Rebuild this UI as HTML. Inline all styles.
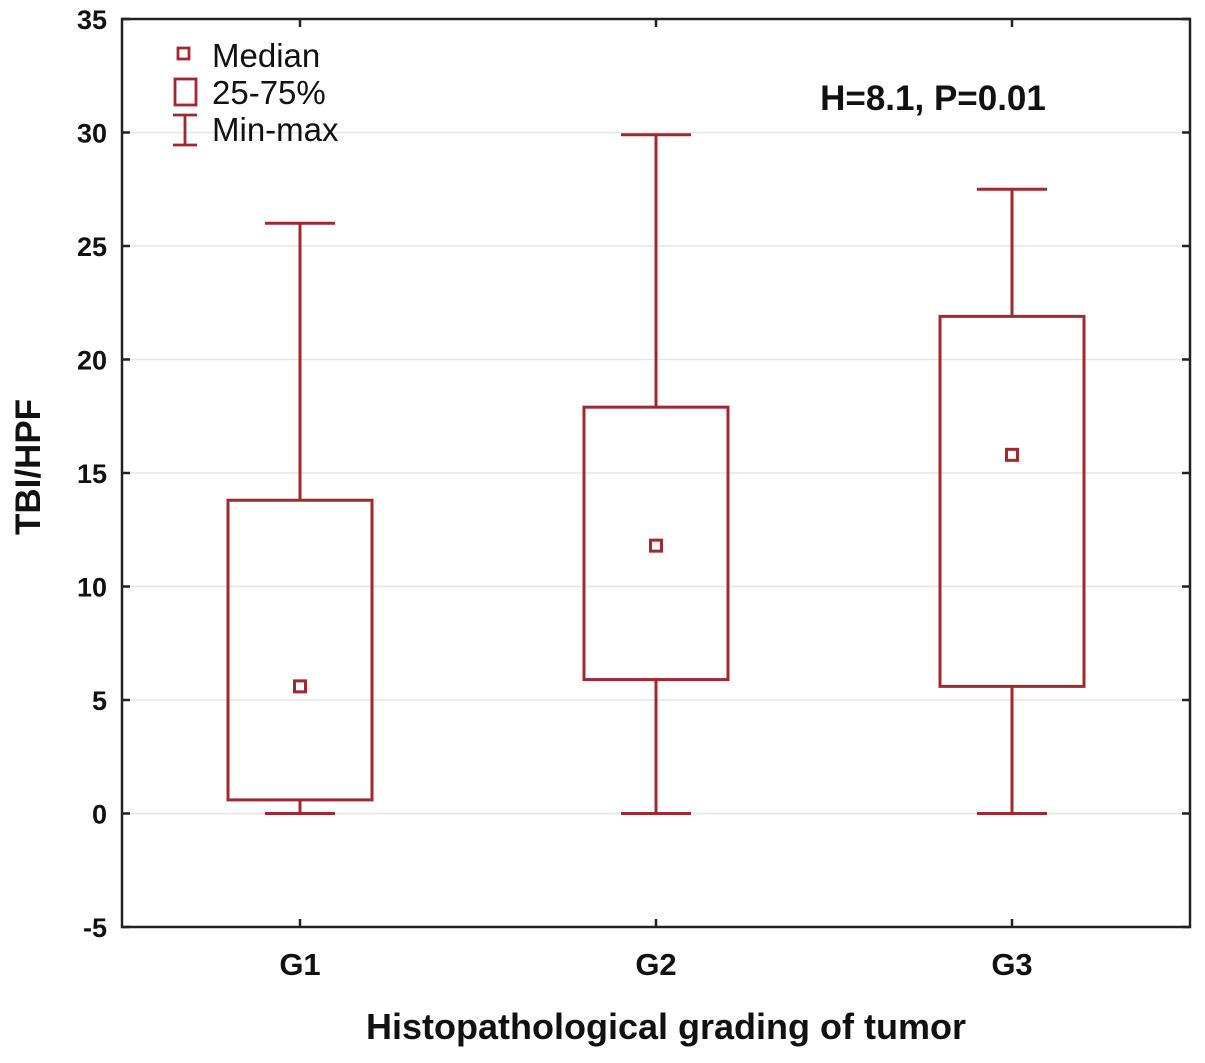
<!DOCTYPE html>
<html><head><meta charset="utf-8"><style>
body{margin:0;background:#fff}
svg text{font-family:"Liberation Sans",Arial,sans-serif;fill:#111}
</style></head><body>
<svg id="chart" width="1205" height="1058" viewBox="0 0 1205 1058" xmlns="http://www.w3.org/2000/svg">
<g id="grid"></g>
<g id="boxes"></g>
<rect x="122" y="19" width="1068" height="908" fill="none" stroke="#222" stroke-width="2.5"/>
<g id="ticks"></g>
<g>
<rect x="178" y="48" width="11" height="11" fill="none" stroke="#a0282e" stroke-width="2.8"/>
<text x="212" y="67" font-size="33">Median</text>
<rect x="175" y="79" width="21" height="26" fill="none" stroke="#a0282e" stroke-width="2.8"/>
<text x="212" y="104" font-size="33">25-75%</text>
<path d="M173 115H197M185 115V145M173 145H197" fill="none" stroke="#a0282e" stroke-width="2.8"/>
<text x="212" y="141" font-size="33">Min-max</text>
</g>
<text x="933" y="110" font-size="35" font-weight="bold" text-anchor="middle">H=8.1, P=0.01</text>
<text transform="translate(40,467) rotate(-90)" font-size="35" font-weight="bold" text-anchor="middle">TBI/HPF</text>
<text x="666" y="1039" font-size="36" font-weight="bold" text-anchor="middle">Histopathological grading of tumor</text>
</svg>
<script>
const categories=["G1","G2","G3"];
const minVals=[0,0,0];
const q1Vals=[0.6,5.9,5.6];
const medianVals=[5.6,11.8,15.8];
const q3Vals=[13.8,17.9,21.9];
const maxVals=[26,29.9,27.5];
const yTicks=[-5,0,5,10,15,20,25,30,35];

const NS="http://www.w3.org/2000/svg";
const L=122,R=1190,T=19,B=927,yMin=-5,yMax=35;
const y=v=>B-(v-yMin)/(yMax-yMin)*(B-T);
const step=(R-L)/categories.length;
const x=i=>L+step*(i+0.5);
const C="#a0282e";
function mk(tag,attrs,parent){const e=document.createElementNS(NS,tag);for(const k in attrs)e.setAttribute(k,attrs[k]);document.getElementById(parent).appendChild(e);return e;}
yTicks.forEach(t=>{
  const yy=y(t);
  if(t>yMin&&t<yMax){const g=mk('line',{x1:L,x2:R,y1:yy,y2:yy,stroke:'#e6e6e6','stroke-width':1.5},'grid');
  
  }
  const a=mk('path',{d:`M${L} ${yy}H${L+8}M${R} ${yy}H${R-8}`,stroke:'#222','stroke-width':2.5},'ticks');
  
  
  const tx=mk('text',{x:107,y:yy+10,'font-size':27,'font-weight':'bold','text-anchor':'end'},'ticks');tx.textContent=t;
  
  
});
categories.forEach((c,i)=>{
  const cx=x(i);
  const tk=mk('path',{d:`M${cx} ${B}V${B-8}M${cx} ${T}V${T+8}`,stroke:'#222','stroke-width':2.5},'ticks');
  
  
  const lb=mk('text',{x:cx,y:975,'font-size':31,'font-weight':'bold','text-anchor':'middle'},'ticks');lb.textContent=c;
  
  
  const w=mk('path',{d:`M${cx-35} ${y(maxVals[i])}H${cx+35}M${cx} ${y(maxVals[i])}V${y(q3Vals[i])}M${cx} ${y(q1Vals[i])}V${y(minVals[i])}M${cx-35} ${y(minVals[i])}H${cx+35}`,fill:'none',stroke:C,'stroke-width':3},'boxes');
  
  
  const b=mk('rect',{x:cx-72,y:y(q3Vals[i]),width:144,height:y(q1Vals[i])-y(q3Vals[i]),fill:'none',stroke:C,'stroke-width':3},'boxes');
  
  
  const m=mk('rect',{x:cx-5.5,y:y(medianVals[i])-5.5,width:11,height:11,fill:'none',stroke:C,'stroke-width':3},'boxes');
  
  
});
</script>
</body></html>
